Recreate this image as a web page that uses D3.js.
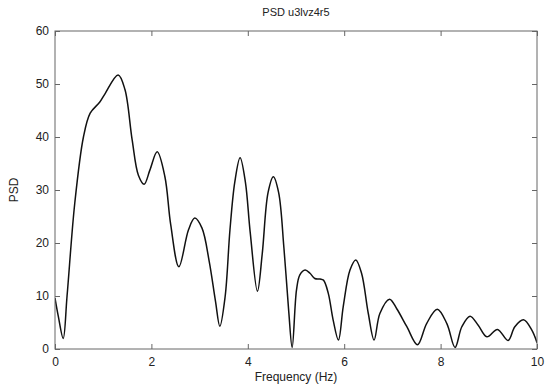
<!DOCTYPE html>
<html><head><meta charset="utf-8">
<script src="https://cdn.jsdelivr.net/npm/d3@7"></script>
<style>body{margin:0;background:#fff}svg{display:block}text{font-family:"Liberation Sans",Arial,sans-serif}</style>
</head><body><div id="chart"></div>
<script>
const title = "PSD u3lvz4r5";
const xLabel = "Frequency (Hz)";
const yLabel = "PSD";
const xTicks = [0, 2, 4, 6, 8, 10];
const yTicks = [0, 10, 20, 30, 40, 50, 60];
const freq = [0.00,0.07,0.17,0.25,0.41,0.59,0.73,0.93,1.04,1.31,1.45,1.60,1.73,1.85,1.97,2.12,2.28,2.40,2.57,2.77,2.90,3.05,3.20,3.33,3.42,3.53,3.63,3.73,3.84,3.95,4.05,4.20,4.30,4.42,4.53,4.64,4.75,4.85,4.92,5.01,5.08,5.19,5.29,5.39,5.50,5.57,5.67,5.77,5.88,5.98,6.12,6.24,6.36,6.50,6.62,6.74,6.94,7.09,7.30,7.52,7.71,7.93,8.13,8.30,8.44,8.61,8.78,8.96,9.18,9.40,9.54,9.72,9.89,10.00];
const psd  = [9.6,6.1,2.0,10.0,27.5,40.0,44.5,46.6,48.2,51.7,49.0,39.5,32.8,31.1,33.8,37.2,32.5,23.5,15.5,22.5,24.7,22.8,16.5,9.0,4.3,9.9,22.5,31.5,36.1,31.5,22.0,10.9,18.0,29.5,32.5,29.5,19.0,7.0,0.3,11.1,14.0,14.9,14.3,13.3,13.2,13.0,10.5,5.5,1.7,8.0,14.9,16.8,14.3,6.7,1.7,6.7,9.4,7.6,4.2,0.8,4.8,7.5,4.8,0.3,4.2,6.2,4.5,2.3,3.7,1.6,4.2,5.5,3.6,1.2];

const W = 547, H = 385;
const m = {left: 55, right: 10, top: 31, bottom: 36};
const svg = d3.select("#chart").append("svg").attr("width", W).attr("height", H);
const x = d3.scaleLinear().domain([0, 10]).range([m.left, W - m.right]);
const y = d3.scaleLinear().domain([0, 60]).range([H - m.bottom, m.top]);
const axisColor = "#666";
const tl = 5;

function styleAxis(g, showLabels) {
  g.select(".domain").remove();
  g.selectAll(".tick line").attr("stroke", axisColor).attr("stroke-width", 1);
  g.selectAll(".tick text").attr("fill", "#222").style("font-size", "12px");
  if (!showLabels) g.selectAll(".tick text").remove();
}
svg.append("g").attr("transform", `translate(0,${y(0)})`)
  .call(d3.axisBottom(x).tickValues(xTicks).tickSize(-tl).tickPadding(8).tickFormat(d3.format("d")))
  .call(g => styleAxis(g, true));
svg.append("g").attr("transform", `translate(0,${y(60)})`)
  .call(d3.axisTop(x).tickValues(xTicks).tickSize(-tl))
  .call(g => styleAxis(g, false));
svg.append("g").attr("transform", `translate(${x(0)},0)`)
  .call(d3.axisLeft(y).tickValues(yTicks).tickSize(-tl).tickPadding(6).tickFormat(d3.format("d")))
  .call(g => styleAxis(g, true));
svg.append("g").attr("transform", `translate(${x(10)},0)`)
  .call(d3.axisRight(y).tickValues(yTicks).tickSize(-tl))
  .call(g => styleAxis(g, false));

svg.append("clipPath").attr("id", "clip").append("rect")
  .attr("x", x(0)).attr("y", y(60)).attr("width", x(10) - x(0)).attr("height", y(0) - y(60));

const pts = freq.map((f, i) => [f, psd[i]]);
svg.append("path").datum(pts).attr("clip-path", "url(#clip)")
  .attr("fill", "none").attr("stroke", "#111").attr("stroke-width", 1.5)
  .attr("d", d3.line().x(d => x(d[0])).y(d => y(d[1])).curve(d3.curveCatmullRom.alpha(0.5)));

svg.append("rect").attr("x", x(0)).attr("y", y(60)).attr("width", x(10) - x(0)).attr("height", y(0) - y(60))
  .attr("fill", "none").attr("stroke", axisColor).attr("stroke-width", 1);

svg.append("text").attr("x", (x(0) + x(10)) / 2).attr("y", 16).attr("text-anchor", "middle")
  .style("font-size", "11px").attr("fill", "#222").text(title);
svg.append("text").attr("x", (x(0) + x(10)) / 2).attr("y", 381).attr("text-anchor", "middle")
  .style("font-size", "12px").attr("fill", "#222").text(xLabel);
svg.append("text").attr("transform", `translate(18,${(y(0) + y(60)) / 2}) rotate(-90)`).attr("text-anchor", "middle")
  .style("font-size", "12px").attr("fill", "#222").text(yLabel);
</script></body></html>
